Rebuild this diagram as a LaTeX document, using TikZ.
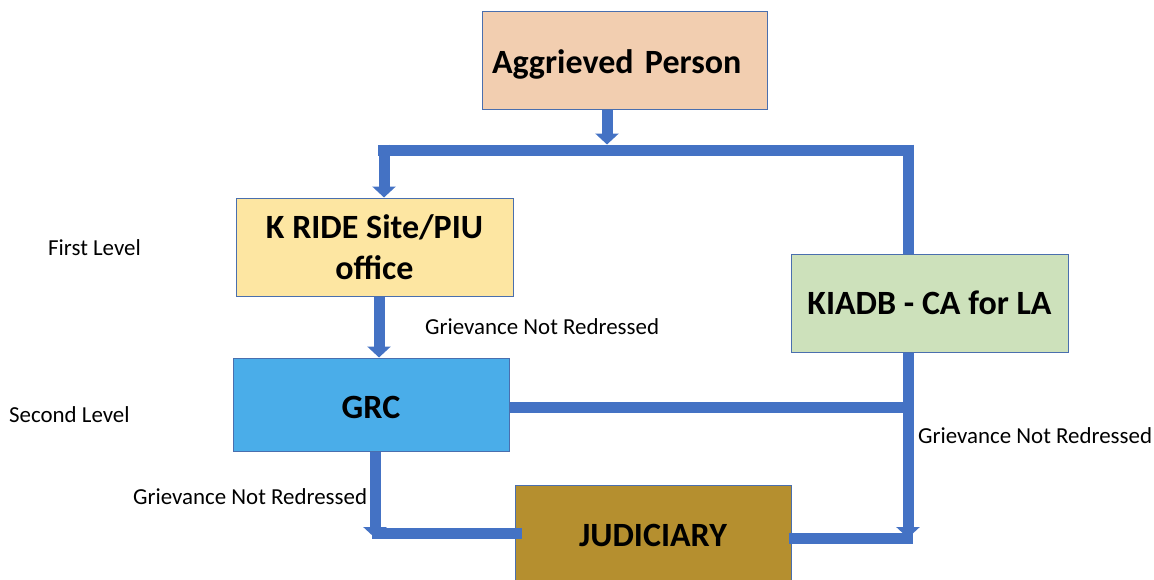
\documentclass[tikz,border=0pt]{standalone}
\usepackage{fontspec}
\setmainfont{Carlito}
\usetikzlibrary{arrows.meta}
\definecolor{barblue}{HTML}{4472C4}
\definecolor{edgeblue}{HTML}{4A6FAE}
\definecolor{peach}{HTML}{F2CEB0}
\definecolor{lyellow}{HTML}{FDE6A2}
\definecolor{lgreen}{HTML}{CDE1BB}
\definecolor{skyblue}{HTML}{4AADE9}
\definecolor{gold}{HTML}{B58F2F}
\newcommand{\lowertxt}[2]{\raisebox{-#1}[\height][\depth]{#2}}
\tikzset{
  box/.style={draw=edgeblue, line width=1pt, minimum width=277pt, minimum height=98pt,
    inner sep=0pt, font=\fontsize{34}{40}\selectfont\bfseries, align=center},
  bar/.style={draw=barblue, line width=11pt, line cap=butt},
  bararrow/.style={bar, -{Triangle[width=23pt,length=11pt]}},
  lbl/.style={font=\fontsize{22.9}{26}\selectfont, inner sep=0pt, anchor=west}
}
\begin{document}
\begin{tikzpicture}[x=1pt,y=-1pt]
\useasboundingbox (0,0) rectangle (1154,579);
% boxes
\node[box, fill=peach, minimum width=285pt, text width=265pt, align=left] (agg) at (624.5,60) {\lowertxt{4pt}{Aggrieved Person}};
\node[box, fill=lyellow] (krs) at (374.5,247) {K RIDE Site/PIU\\[1pt]office};
\node[box, fill=lgreen] (kia) at (929.5,303) {KIADB - CA for LA};
\node[box, fill=skyblue, minimum width=276pt, minimum height=93pt] (grc) at (371,404.5) {\lowertxt{3pt}{GRC}};
\node[box, fill=gold, minimum width=276pt, minimum height=97pt] (jud) at (653,533.5) {\lowertxt{2pt}{JUDICIARY}};
% labels
\node[lbl] (l1) at (48,248) {First Level};
\node[lbl] (l2) at (9,415) {Second Level};
\node[lbl] (g1) at (425,327) {Grievance Not Redressed};
\node[lbl] (g2) at (918,436) {Grievance Not Redressed};
\node[lbl] (g3) at (133,497) {Grievance Not Redressed};
% junction coordinates
\coordinate (j0) at (607,150);
\coordinate (jL) at (384,150);
\coordinate (jR) at (908,150);
\coordinate (jG) at (908,407);
\coordinate (jK) at (908,538);
\coordinate (jB) at (375,533);
% connectors
\draw[bar] ([xshift=-6pt]jL) -- ([xshift=5pt]jR);
\draw[bararrow] (agg.south -| j0) -- ([yshift=5.5pt]j0);
\draw[bararrow] ([yshift=5.5pt]jL) -- (krs.north -| jL);
\draw[bar] ([yshift=5.5pt]jR) -- (kia.north -| jR);
\draw[bararrow] ([xshift=4.5pt]krs.south) -- ([xshift=8pt]grc.north);
\draw[bar] (grc.east |- jG) -- ([xshift=-5pt]jG);
\draw[bararrow] (kia.south -| jK) -- (jK);
\draw[bar] ([xshift=-3pt]jud.east |- jK) -- ([xshift=5pt]jK);
\draw[bar] ([xshift=-3pt]jB) -- ([xshift=7pt]jud.west |- jB);
\draw[bararrow] (grc.south -| jB) -- ([yshift=-5pt]jB);
\end{tikzpicture}
\end{document}
